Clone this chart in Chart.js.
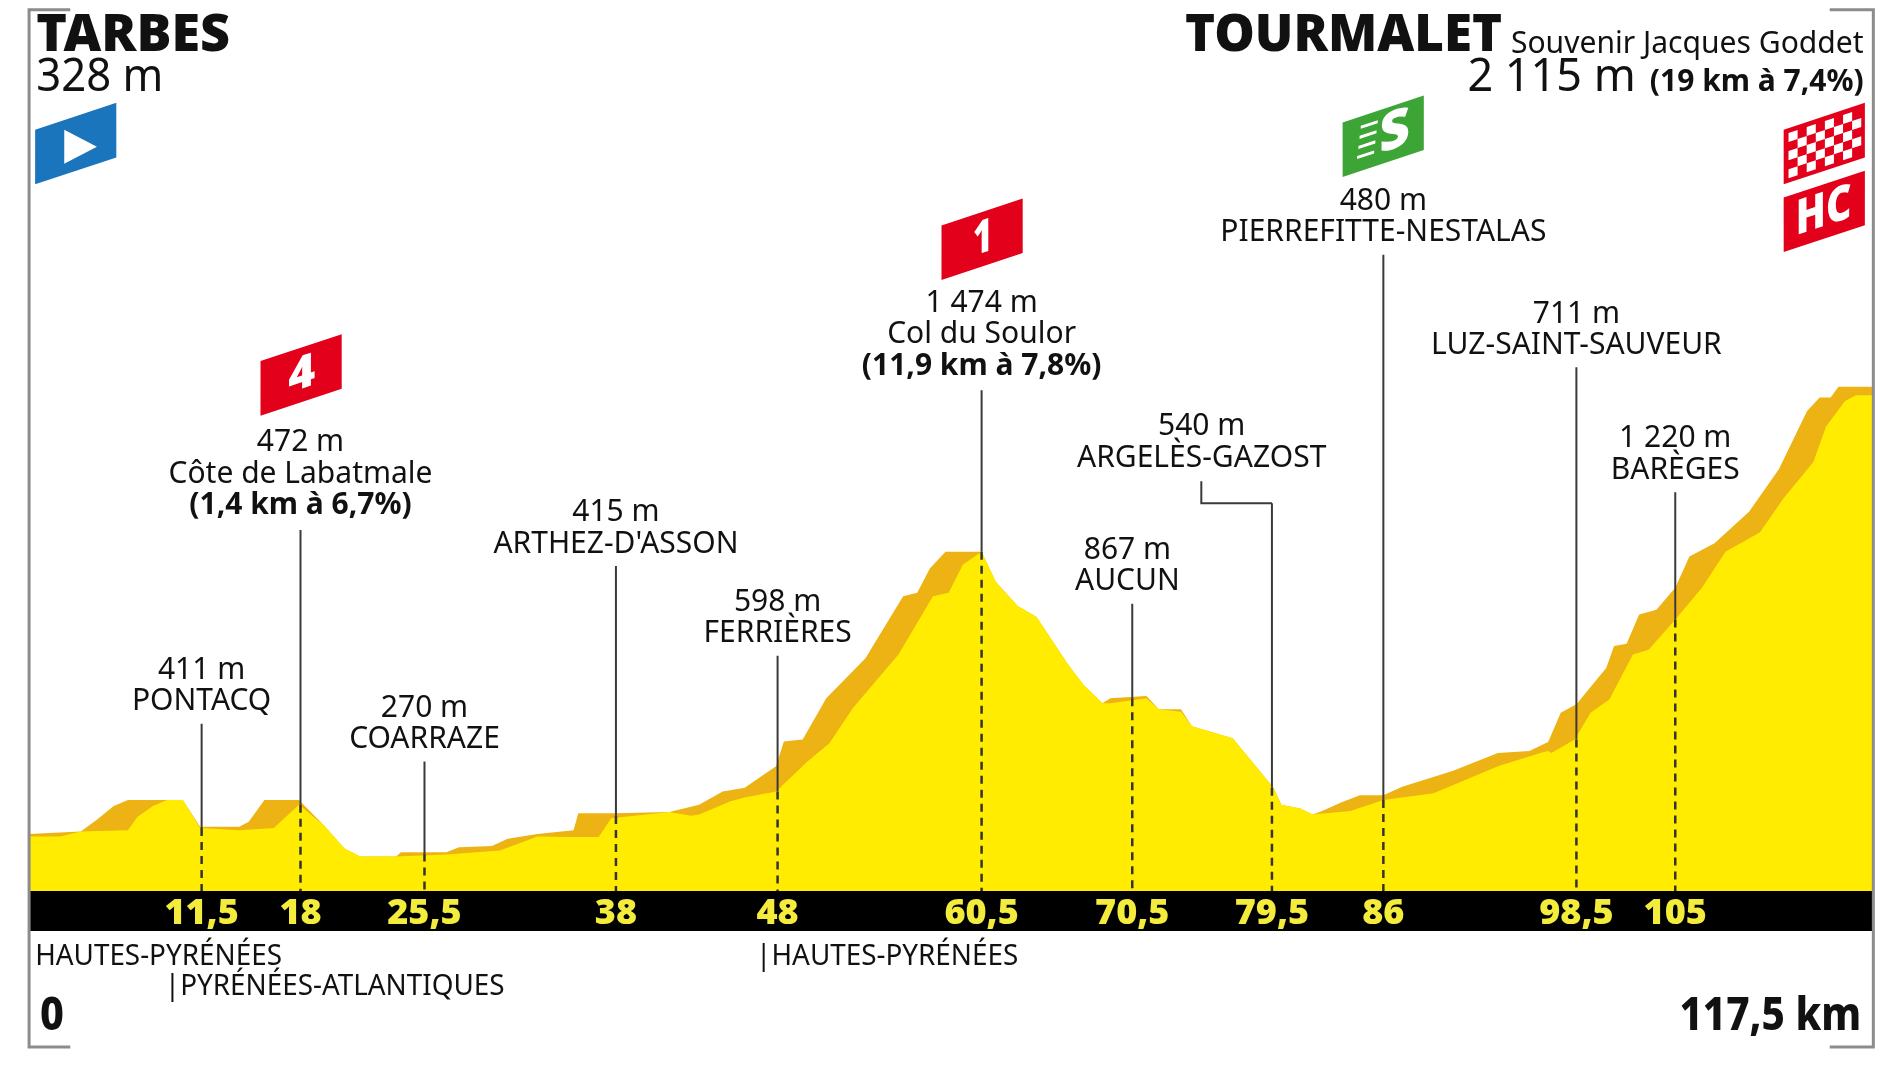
<!DOCTYPE html>
<html>
<head>
<meta charset="utf-8">
<title>Tarbes - Tourmalet</title>
<script src="https://cdn.jsdelivr.net/npm/chart.js@4"></script>
<style>
  body { margin: 0; background: #fff; }
  canvas { display: block; }
</style>
</head>
<body>
<canvas id="profil" width="1900" height="1069"></canvas>
<script>
// Profil : bord haut du relief (orange) en km / m
const reliefKm = [0, 3.3, 4.3, 5.4, 6.3, 9.8, 10.9, 13.4, 14.0, 15.0, 17.2, 18.8, 20.1, 21.1, 23.4, 23.7, 26.6, 27.4, 29.5, 30.5, 32.4, 34.7, 35.0, 37.3, 40.8, 42.7, 44.2, 45.6, 47.6, 48.1, 49.3, 50.8, 53.3, 55.7, 56.6, 57.4, 58.4, 60.7, 61.6, 63.0, 64.2, 66.2, 67.2, 68.4, 68.9, 71.2, 72.0, 73.4, 74.1, 76.7, 79.3, 79.8, 81.0, 81.8, 82.4, 83.6, 84.8, 86.3, 87.5, 90.7, 93.6, 95.6, 96.8, 97.6, 98.6, 100.5, 101.0, 101.8, 102.6, 103.7, 104.9, 105.8, 107.4, 109.6, 111.5, 113.3, 114.1, 114.8, 115.3, 117.5];
const reliefAlt = [328, 338, 384, 440, 464, 464, 357, 357, 377, 464, 464, 362, 270, 238, 238, 255, 255, 275, 280, 309, 328, 343, 411, 411, 416, 445, 498, 513, 600, 699, 707, 872, 1032, 1280, 1294, 1391, 1459, 1459, 1338, 1241, 1197, 1008, 925, 852, 872, 881, 828, 828, 760, 712, 513, 445, 430, 406, 420, 454, 483, 483, 517, 581, 653, 661, 697, 814, 848, 993, 1081, 1090, 1207, 1226, 1314, 1440, 1493, 1619, 1789, 2022, 2076, 2076, 2119, 2119];

// Bord bas de la bande orange (le jaune au-dessous)
const faceKm = [0, 2.0, 3.3, 6.3, 6.9, 7.9, 8.8, 9.8, 10.9, 13.4, 15.6, 17.2, 18.8, 20.1, 21.1, 23.4, 26.6, 30.0, 32.4, 34.4, 36.3, 37.1, 40.8, 42.2, 42.7, 44.7, 45.6, 47.6, 49.6, 51.0, 52.5, 55.4, 57.6, 58.6, 59.5, 60.7, 61.6, 63.0, 64.2, 66.2, 67.2, 68.4, 68.9, 71.2, 72.0, 73.4, 74.1, 76.7, 79.3, 79.8, 81.0, 81.8, 82.4, 84.2, 86.3, 89.5, 93.6, 96.3, 96.8, 97.0, 98.5, 99.5, 100.7, 102.2, 103.2, 104.9, 106.6, 108.1, 110.3, 111.8, 113.7, 114.5, 115.7, 116.4, 117.5];
const faceAlt = [318, 318, 338, 343, 396, 440, 464, 464, 352, 343, 352, 445, 362, 270, 238, 238, 246, 262, 318, 316, 316, 391, 416, 401, 406, 459, 474, 498, 619, 692, 833, 1047, 1280, 1294, 1406, 1459, 1338, 1241, 1197, 1008, 925, 852, 852, 872, 828, 818, 760, 712, 513, 445, 430, 406, 410, 420, 464, 491, 600, 653, 661, 653, 707, 814, 867, 1047, 1066, 1187, 1314, 1459, 1537, 1673, 1818, 1959, 2061, 2085, 2085];

// Points de passage
const passageKm = ['11,5', '18', '25,5', '38', '48', '60,5', '70,5', '79,5', '86', '98,5', '105'];
const passagePos = [11.0, 17.3, 25.2, 37.4, 47.7, 60.7, 70.3, 79.2, 86.3, 98.6, 104.9];
const passageTop = [770, 1546, 619, 1401, 1042, 2105, 1250, 1653, 2648, 2197, 1697];
const passageSol = [352, 445, 250, 400, 498, 1459, 872, 513, 464, 707, 1187];
const passageAlt = ['411 m', '472 m', '270 m', '415 m', '598 m', '1 474 m', '867 m', '540 m', '480 m', '711 m', '1 220 m'];
const passageNom = ['PONTACQ', 'Côte de Labatmale', 'COARRAZE', "ARTHEZ-D'ASSON", 'FERRIÈRES', 'Col du Soulor', 'AUCUN', 'ARGELÈS-GAZOST', 'PIERREFITTE-NESTALAS', 'LUZ-SAINT-SAUVEUR', 'BARÈGES'];
const passageCote = ['', '(1,4 km à 6,7%)', '', '', '', '(11,9 km à 7,8%)', '', '', '', '', ''];

// Coude du repère d'Argelès
const coudeKm = [74.7, 74.7, 79.2];
const coudeAlt = [1741, 1653, 1653];

const JAUNE = '#FFEC00';
const ORANGE = '#EDB214';
const GRIS = '#8C8C8C';
const TRAIT = '#3A3A3A';
const FONTE = '"Noto Sans"';
const K = 1900 / 1568; // échelle de mise en page

function paires(xs, ys) {
  return xs.map((x, i) => ({ x: x, y: ys[i] }));
}

function texte(ctx, txt, x, y, font, align, squeeze, color) {
  ctx.font = font;
  ctx.textAlign = align;
  ctx.textBaseline = 'alphabetic';
  ctx.fillStyle = color || '#111';
  ctx.fillText(txt, x * K, y * K, ctx.measureText(txt).width * (squeeze || 1));
}

// Drapeau en parallélogramme, x et y en bas à gauche
function drapeau(ctx, x, y, couleur, dessin) {
  ctx.save();
  ctx.transform(K, -0.33 * K, 0, K, x * K, y * K);
  ctx.fillStyle = couleur;
  ctx.fillRect(0, -45, 67, 45);
  if (dessin) dessin();
  ctx.restore();
}

function lettre(ctx, txt, cx, size, largeur) {
  ctx.fillStyle = '#fff';
  ctx.font = '900 ' + size + 'px ' + FONTE;
  ctx.textAlign = 'center';
  ctx.textBaseline = 'middle';
  ctx.fillText(txt, cx, -22, largeur);
}

const decor = {
  id: 'decor',
  afterDraw(chart) {
    const ctx = chart.ctx;
    const sx = chart.scales.x;
    const sy = chart.scales.y;

    // Cadre
    ctx.strokeStyle = GRIS;
    ctx.lineWidth = 3;
    ctx.beginPath();
    ctx.moveTo(58 * K, 8 * K); ctx.lineTo(24 * K, 8 * K); ctx.lineTo(24 * K, 864 * K); ctx.lineTo(58 * K, 864 * K);
    ctx.moveTo(1510 * K, 8 * K); ctx.lineTo(1546 * K, 8 * K); ctx.lineTo(1546 * K, 864 * K); ctx.lineTo(1510 * K, 864 * K);
    ctx.stroke();

    // Titres
    texte(ctx, 'TARBES', 30, 42, '900 52px ' + FONTE, 'left');
    texte(ctx, '328 m', 30, 75, '400 45px ' + FONTE, 'left', 0.97);
    texte(ctx, 'TOURMALET', 978, 42, '900 51px ' + FONTE, 'left');
    texte(ctx, 'Souvenir Jacques Goddet', 1538, 44, '400 31px ' + FONTE, 'right', 0.97);
    texte(ctx, '2 115 m', 1350, 75, '400 45px ' + FONTE, 'right');
    texte(ctx, '(19 km à 7,4%)', 1538, 75, '700 30px ' + FONTE, 'right');

    // Libellés des points de passage
    passagePos.forEach((pos, i) => {
      const px = sx.getPixelForValue(pos) / K;
      const bas = sy.getPixelForValue(passageTop[i]) / K;
      let cx = px;
      let base = bas - 11;
      if (i === 6) cx = px - 4;
      if (i === 7) { cx = px - 58; base = sy.getPixelForValue(coudeAlt[0]) / K - 12; }
      const lignes = [passageAlt[i], passageNom[i]];
      if (passageCote[i]) { lignes.push(passageCote[i]); base -= 2; }
      lignes.forEach((l, j) => {
        const gras = j === 2;
        texte(ctx, l, cx, base - (lignes.length - 1 - j) * 26,
          (gras ? '700 ' : '400 ') + '30px ' + FONTE, 'center');
      });
    });

    // Départements et distances
    texte(ctx, 'HAUTES-PYRÉNÉES', 29, 796, '400 29px ' + FONTE, 'left', 0.96);
    texte(ctx, '|PYRÉNÉES-ATLANTIQUES', 136, 821, '400 29px ' + FONTE, 'left', 0.96);
    texte(ctx, '|HAUTES-PYRÉNÉES', 624, 796, '400 29px ' + FONTE, 'left', 0.96);
    texte(ctx, '0', 33, 850, '800 46px ' + FONTE, 'left', 0.9);
    texte(ctx, '117,5 km', 1536, 850, '800 46px ' + FONTE, 'right', 0.88);

    // Drapeaux
    drapeau(ctx, 29, 152, '#1B75BC', () => {
      ctx.fillStyle = '#fff';
      ctx.beginPath();
      ctx.moveTo(24, -37); ctx.lineTo(24, -9); ctx.lineTo(51, -14);
      ctx.closePath();
      ctx.fill();
    });
    drapeau(ctx, 215, 343, '#E2001A', () => lettre(ctx, '4', 34, 38, 24));
    drapeau(ctx, 777, 231, '#E2001A', () => lettre(ctx, '1', 34, 38, 16));
    drapeau(ctx, 1108, 146, '#3DA535', () => {
      lettre(ctx, 'S', 43, 44, 28);
      ctx.strokeStyle = '#fff';
      ctx.lineWidth = 2.5;
      [12, 20, 28, 36].forEach((y, i) => {
        ctx.beginPath();
        ctx.moveTo(12 + i, -y); ctx.lineTo(26 + i, -y);
        ctx.stroke();
      });
    });
    drapeau(ctx, 1472, 152, '#E2001A', () => {
      ctx.fillStyle = '#fff';
      for (let r = 0; r < 5; r++) {
        for (let c = 0; c < 8; c++) {
          if ((r + c) % 2 === 0) ctx.fillRect(4 + c * 7.5, -41 + r * 7.5, 7.5, 7.5);
        }
      }
    });
    drapeau(ctx, 1472, 208, '#E2001A', () => lettre(ctx, 'HC', 33, 40, 46));
  }
};

// Repères : trait plein au-dessus du relief, pointillés dedans
const reperes = [];
passagePos.forEach((pos, i) => {
  reperes.push({
    data: paires([pos, pos], [passageTop[i], passageSol[i]]),
    borderColor: TRAIT, borderWidth: 2, pointRadius: 0, fill: false, order: 0
  });
  reperes.push({
    data: paires([pos, pos], [passageSol[i], 100]),
    borderColor: '#333', borderWidth: 2.5, borderDash: [8, 6], pointRadius: 0, fill: false, order: 0
  });
});

new Chart(document.getElementById('profil').getContext('2d'), {
  type: 'line',
  data: {
    datasets: [
      ...reperes,
      { data: paires(coudeKm, coudeAlt), borderColor: TRAIT, borderWidth: 2, pointRadius: 0, fill: false, order: 0 },
      { data: paires(faceKm, faceAlt), backgroundColor: JAUNE, borderWidth: 0, pointRadius: 0, fill: 'start', order: 1 },
      { data: paires(reliefKm, reliefAlt), backgroundColor: ORANGE, borderWidth: 0, pointRadius: 0, fill: 'start', order: 2 }
    ]
  },
  options: {
    responsive: false,
    animation: false,
    devicePixelRatio: 1,
    layout: { padding: { left: 29, right: 27, top: 0, bottom: 138 } },
    plugins: { legend: { display: false }, tooltip: { enabled: false }, title: { display: false } },
    scales: {
      x: {
        type: 'linear',
        min: 0,
        max: 117.5,
        backgroundColor: '#000',
        grid: { display: false },
        border: { display: false },
        afterBuildTicks: axis => { axis.ticks = passagePos.map(v => ({ value: v })); },
        afterFit: axis => { axis.height = 40; },
        ticks: {
          autoSkip: false,
          maxRotation: 0,
          padding: -7,
          color: '#F4EC3C',
          font: { family: 'Noto Sans', size: 36, weight: '900' },
          callback: (value, index) => passageKm[index]
        }
      },
      y: { display: false, min: 100, max: 3668 }
    }
  },
  plugins: [decor]
});
</script>
</body>
</html>
